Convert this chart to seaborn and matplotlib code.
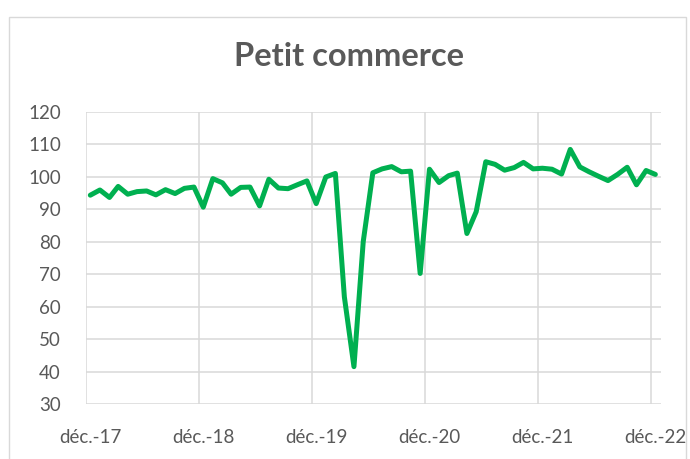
import matplotlib
matplotlib.use("Agg")
import matplotlib.pyplot as plt
import matplotlib.dates as mdates
from matplotlib.patches import Rectangle
import seaborn as sns
import pandas as pd

# indice mensuel, déc. 2017 -> déc. 2022
mois = pd.date_range("2017-12-01", "2022-12-01", freq="MS")
indice = [94.3, 95.9, 93.6, 97.0, 94.6, 95.4, 95.6, 94.4, 96.0, 94.8, 96.4, 96.8,
          90.6, 99.4, 98.1, 94.6, 96.7, 96.8, 91.0, 99.2, 96.5, 96.3, 97.5, 98.7,
          91.7, 99.9, 101.0, 63.0, 41.5, 80.0, 101.2, 102.4, 103.1, 101.5, 101.7, 70.2,
          102.3, 98.2, 100.3, 101.1, 82.5, 89.2, 104.6, 103.8, 102.0, 102.8, 104.4, 102.4,
          102.6, 102.3, 100.8, 108.4, 103.0, 101.5, 100.1, 98.8, 100.7, 102.9, 97.5, 101.9,
          100.7]
annees = mois[::12]
etiquettes = [f"déc.-{d.year % 100}" for d in annees]

# points au milieu du mois (axe de dates Excel)
df = pd.DataFrame({"mois": mois + pd.Timedelta(days=14), "indice": indice})

sns.set_style("white")
plt.rcParams["font.family"] = ["Lato", "DejaVu Sans"]

fig = plt.figure(figsize=(6.9, 4.59), dpi=100)
ax = fig.add_axes([0.1246, 0.1198, 0.8328, 0.6368])

sns.lineplot(data=df, x="mois", y="indice", color="#00B050", linewidth=3.6, ax=ax)

ax.set_ylim(30, 120)
ax.set_yticks(range(30, 121, 10))
ax.set_xlim(mdates.date2num(pd.Timestamp("2017-12-01")),
            mdates.date2num(pd.Timestamp("2023-01-01")))
ax.set_xticks(mdates.date2num(annees), minor=True)
ax.set_xticks(mdates.date2num(annees + pd.Timedelta(days=14)))
ax.set_xticklabels(etiquettes)

ax.grid(axis="y", color="#D9D9D9", linewidth=1.1)
ax.grid(axis="x", which="minor", color="#D9D9D9", linewidth=1.1)
ax.grid(axis="x", which="major", visible=False)
ax.tick_params(axis="x", which="minor", length=13, color="#D9D9D9", width=1.1)
ax.tick_params(axis="x", which="major", length=0, pad=18, labelsize=13.5, labelcolor="#595959")
ax.tick_params(axis="y", length=0, pad=18, labelsize=13.5, labelcolor="#595959")
for s in ax.spines.values():
    s.set_visible(False)
ax.set_xlabel("")
ax.set_ylabel("")

fig.text(0.506, 1 - 57 / 459, "Petit commerce", ha="center", va="center",
         fontsize=23.5, fontweight="bold", color="#595959")
fig.patches.append(Rectangle((9 / 690, -0.05), 677 / 690, 1.05 - 17 / 459,
                             transform=fig.transFigure, fill=False,
                             edgecolor="#D9D9D9", linewidth=1))

fig.savefig("out.png", dpi=100)
